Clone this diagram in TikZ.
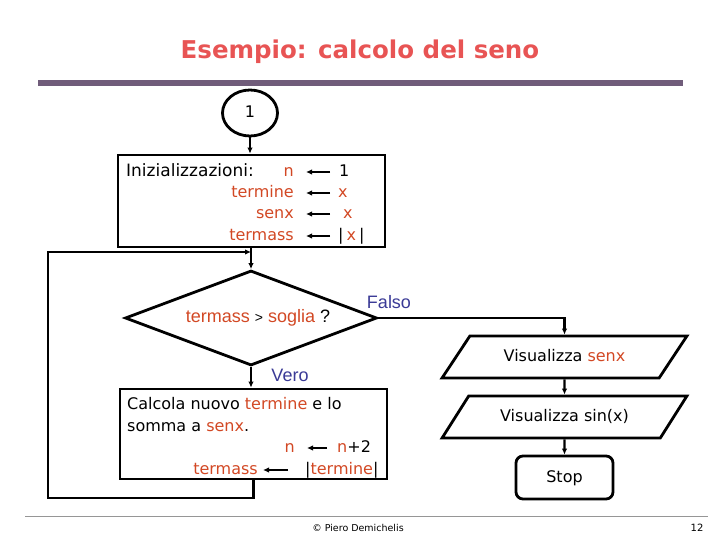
\documentclass[tikz,border=0pt]{standalone}
\usepackage{fontspec}
\setmainfont{DejaVu Sans}
\newfontfamily\arialfont{Liberation Sans}
\usepackage{tikz}
\usetikzlibrary{calc,positioning,shapes.geometric,arrows.meta}
\definecolor{titlered}{RGB}{232,84,84}
\definecolor{varred}{RGB}{210,72,36}
\definecolor{labelblue}{RGB}{58,58,150}
\definecolor{barpurple}{RGB}{112,92,122}
\definecolor{footgray}{RGB}{150,150,150}

\begin{document}
\begin{tikzpicture}[x=1pt, y=-1pt,
  box/.style={draw, line width=2.8pt, inner sep=0pt},
  flow/.style={line width=2.2pt, -{Latex[length=6pt,width=5.5pt]}},
  assign/.style={line width=1.8pt, -{Latex[length=6pt,width=5.5pt]}},
  txt/.style={font=\fontsize{16}{18}\selectfont, inner sep=0pt, text height=12pt, text depth=3pt},
  var/.style={txt, text=varred},
  blab/.style={font=\arialfont\fontsize{18}{20}\selectfont, text=labelblue, inner sep=0pt}
]
\useasboundingbox (0,0) rectangle (720,540);
% Title and bar
\node[font=\bfseries\fontsize{24.5}{28}\selectfont, text=titlered] (title) at (360,52) {Esempio: calcolo del seno};
\fill[barpurple] (38,80) rectangle (683,86);
% Start connector and initialisation block
\node[box, ellipse, minimum width=55pt, minimum height=46pt, txt] (start) at (250,113) {1};
\node[box, minimum width=267pt, minimum height=92pt] (init) at (251.5,201) {};
\node[txt, anchor=west, font=\fontsize{17}{19}\selectfont] (initlab) at (126,172) {Inizializzazioni:};
\foreach \i/\nm/\val/\y in {1/n/{\hspace{1pt}1}/172, 2/termine/{\textcolor{varred}{x}}/193,
    3/senx/{\hspace{5pt}\textcolor{varred}{x}}/214, 4/termass/{|\hspace{3pt}\textcolor{varred}{x}\hspace{3pt}|}/236} {
  \node[var, anchor=east] (iname\i) at (294,\y) {\nm};
  \node[txt, anchor=west] (ival\i) at (338,\y) {\val};
  \draw[assign, shorten <=8pt, shorten >=12pt] (ival\i.west) -- (iname\i.east);
}
% Test
\node[box, diamond, aspect=2.65, minimum width=252pt, minimum height=95pt] (test) at (251,318) {};
\node[font=\arialfont\fontsize{18}{20}\selectfont] (testlab) at (258,318)
  {\textcolor{varred}{termass} {\fontsize{14}{16}\selectfont >} \textcolor{varred}{soglia} ?};
\node[blab] (falso) at (389,302) {Falso};
\node[blab] (vero) at (290,375) {Vero};
% Loop body
\node[box, minimum width=267pt, minimum height=90pt] (calc) at (253.5,434) {};
\node[txt, anchor=west] (calc1) at (127,405) {Calcola nuovo \textcolor{varred}{termine} e lo};
\node[txt, anchor=west] (calc2) at (127,427) {somma a \textcolor{varred}{senx}.};
\node[var, anchor=east] (cname1) at (295,448) {n};
\node[var, anchor=west] (cval1) at (337,448) {n\textcolor{black}{+2}};
\node[var, anchor=east] (cname2) at (258,470) {termass};
\node[txt, anchor=west] (cval2) at (305,470) {|\textcolor{varred}{termine}|};
\draw[assign, shorten <=10pt, shorten >=12pt] (cval1.west) -- (cname1.east);
\draw[assign, shorten <=17pt, shorten >=5pt] (cval2.west) -- (cname2.east);
% Output and stop
\node[box, trapezium, trapezium left angle=40, trapezium right angle=140, trapezium stretches=true,
  minimum width=245pt, minimum height=42pt, txt] (show1) at (564.5,357) {Visualizza \textcolor{varred}{senx}};
\node[box, trapezium, trapezium left angle=40, trapezium right angle=140, trapezium stretches=true,
  minimum width=245pt, minimum height=42pt, txt] (show2) at (564.5,417) {Visualizza sin(x)};
\node[box, rounded corners=7pt, minimum width=97pt, minimum height=43pt, txt] (stop) at (564.5,477.5) {Stop};
% Connectors
\coordinate (loopbot) at (48,498);
\coordinate (looptop) at (48,252);
\draw[flow] (start.south) -- (start.south |- init.north);
\draw[flow] (init.south -| test.north) -- (test.north);
\draw[flow] (calc.south) |- (loopbot) -- (looptop) -- (looptop -| test.north);
\draw[flow] (test.south) -- (test.south |- calc.north);
\draw[flow] (test.east) -| (show1.north);
\draw[flow] (show1.south) -- (show2.north);
\draw[flow] (show2.south) -- (stop.north);
% Footer
\draw[footgray, line width=1pt] (25,516) -- (708,516);
\node[font=\fontsize{9.5}{11}\selectfont] (copy) at (358,528) {© Piero Demichelis};
\node[font=\fontsize{10}{12}\selectfont] (page) at (697,528) {12};
\end{tikzpicture}
\end{document}
